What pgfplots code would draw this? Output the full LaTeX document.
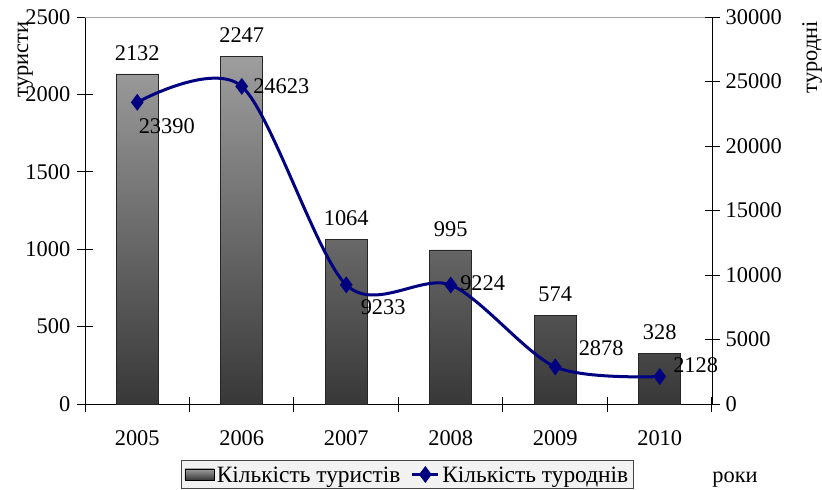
\documentclass[border=0pt]{standalone}
\usepackage{fontspec}
\setmainfont{Liberation Serif}
\usepackage{pgfplots}
\pgfplotsset{compat=1.18}
\usepackage{pgfplotstable}

\definecolor{barTop}{RGB}{158,158,158}
\definecolor{barBottom}{RGB}{56,56,56}
\definecolor{lineBlue}{RGB}{0,0,128}
\definecolor{frameGray}{RGB}{165,165,165}
\definecolor{legendFill}{RGB}{242,242,242}
\definecolor{legendDraw}{RGB}{70,70,70}

\newcommand{\chartfont}{\fontsize{22.5}{27}\selectfont}
\newcommand{\legendfont}{\fontsize{23.5}{27}\selectfont}

% number of tourists per year
\pgfplotstableread{
x year tourists
0 2005 2132
1 2006 2247
2 2007 1064
3 2008 995
4 2009 574
5 2010 328
}\tourists

% tourist-days per year, with label offsets (bp)
\pgfplotstableread{
x year days dx dy
0 2005 23390 0 -24
1 2006 24623 10 0
2 2007 9233 13 -22
3 2008 9224 8 2
4 2009 2878 22 19
5 2010 2128 12 11
}\touristdays

\pgfplotsset{
  common/.style={
    scale only axis, width=627bp, height=387bp,
    at={(85bp,-404bp)}, anchor=south west,
    xmin=-0.5, xmax=5.5, ymin=0,
    clip=false,
    /pgf/number format/assume math mode=true,
    /pgf/number format/1000 sep={},
    scaled y ticks=false,
    tick align=center,
    major tick length=15bp,
    axis line style={line width=1bp, black},
    every tick/.style={line width=1bp, black},
  },
  daysline/.style={
    legend image code/.code={%
      \draw[mark repeat=2, mark phase=2, ##1]
        plot coordinates {(0bp,0bp) (13bp,0bp) (26bp,0bp)};},
  },
}

\begin{document}
\begin{tikzpicture}[font=\chartfont]
\useasboundingbox (0,0) rectangle (822bp,-490bp);

% bars: number of tourists (left axis)
\begin{axis}[common,
  ymax=2500, ytick={0,500,...,2500},
  axis x line*=bottom, axis y line*=left,
  xtick={-0.5,0.5,...,5.5}, xticklabels={},
  extra x ticks={0,1,2,3,4,5},
  extra x tick labels={2005,2006,2007,2008,2009,2010},
  extra x tick style={major tick length=0pt,
    tick label style={inner sep=0pt, anchor=north, yshift=-26bp}},
  yticklabel style={inner sep=0pt, anchor=east, xshift=-7bp},
  ylabel={туристи},
  ylabel style={at={(axis description cs:-0.0909,0.890)}, anchor=base},
  xlabel={роки},
  xlabel style={at={(axis description cs:1.0367,-0.2016)}, anchor=base},
]
\draw[frameGray, line width=1bp] (rel axis cs:0,1) -- (rel axis cs:1,1);
\addplot[ybar, bar width=42bp, draw=black!85, line width=0.8bp,
  top color=barTop, bottom color=barBottom,
  nodes near coords,
  every node near coord/.append style={anchor=south, inner sep=0pt,
    yshift=13bp, text=black}]
  table[x=x, y=tourists]{\tourists};
\end{axis}

% line: tourist-days (right axis)
\begin{axis}[common,
  ymax=30000, ytick={0,5000,...,30000},
  axis y line*=right, axis x line=none,
  yticklabel style={inner sep=0pt, anchor=west, xshift=6bp},
  ylabel={туродні},
  ylabel style={at={(axis description cs:1.1675,0.8966)}, anchor=base},
  legend columns=2,
  legend cell align=left,
  legend style={at={(axis description cs:0.1531,-0.2196)}, anchor=south west,
    draw=legendDraw, fill=legendFill, line width=1bp,
    font=\legendfont,
    inner xsep=3bp, inner ysep=1bp,
    nodes={inner xsep=2.5bp, inner ysep=1bp, text height=20bp, text depth=4bp},
    /tikz/every even column/.append style={column sep=8bp}},
]
\addlegendimage{legend image code/.code={%
  \draw[top color=barTop, bottom color=barBottom, draw=black, line width=0.8bp]
    (0bp,-5.5bp) rectangle (29bp,5.5bp);}}
\addlegendentry{Кількість туристів}
\addplot[lineBlue, line width=3bp, smooth,
  mark=diamond*, mark size=6bp, mark options={solid, fill=lineBlue},
  daysline,
  visualization depends on={\thisrow{dx} \as \labeldx},
  visualization depends on={\thisrow{dy} \as \labeldy},
  nodes near coords,
  every node near coord/.append style={anchor=west, inner sep=0pt,
    xshift=\labeldx bp, yshift=\labeldy bp, text=black,
    text height=, text depth=}]
  table[x=x, y=days]{\touristdays};
\addlegendentry{Кількість туроднів}
\end{axis}
\end{tikzpicture}
\end{document}
